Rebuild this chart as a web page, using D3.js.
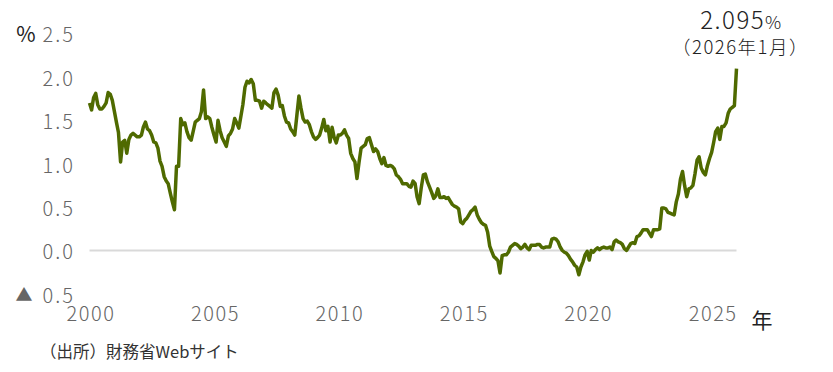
<!DOCTYPE html>
<html lang="ja">
<head>
<meta charset="utf-8">
<script src="https://cdn.jsdelivr.net/npm/d3@7"></script>
<style>
  html, body { margin: 0; padding: 0; background: #fff; }
  svg text { font-family: "Noto Sans CJK JP", "Noto Sans", sans-serif; }
</style>
</head>
<body>
<svg id="chart"></svg>
<script>
// ====== données : rendement mensuel (%), janv. 2000 -> janv. 2026 ====== //
const startYear = 2000;
const yields = [
  1.70, 1.62, 1.76, 1.81, 1.68, 1.63, 1.63, 1.66, 1.70, 1.82, 1.80, 1.73, // 2000
  1.60, 1.47, 1.36, 1.02, 1.25, 1.27, 1.12, 1.28, 1.33, 1.35, 1.33, 1.31, // 2001
  1.31, 1.33, 1.42, 1.48, 1.40, 1.38, 1.33, 1.25, 1.24, 1.18, 1.03, 0.97, // 2002
  0.85, 0.80, 0.77, 0.66, 0.56, 0.47, 0.97, 0.97, 1.52, 1.45, 1.47, 1.37, // 2003
  1.30, 1.27, 1.37, 1.48, 1.50, 1.52, 1.60, 1.85, 1.52, 1.54, 1.52, 1.42, // 2004
  1.33, 1.25, 1.50, 1.38, 1.30, 1.25, 1.20, 1.32, 1.35, 1.40, 1.52, 1.47, // 2005
  1.41, 1.55, 1.68, 1.88, 1.95, 1.93, 1.97, 1.92, 1.73, 1.73, 1.72, 1.64, // 2006
  1.72, 1.70, 1.68, 1.66, 1.64, 1.82, 1.86, 1.79, 1.66, 1.67, 1.55, 1.48, // 2007
  1.47, 1.40, 1.37, 1.33, 1.55, 1.78, 1.64, 1.52, 1.48, 1.49, 1.45, 1.37, // 2008
  1.31, 1.28, 1.30, 1.33, 1.41, 1.51, 1.38, 1.43, 1.25, 1.42, 1.30, 1.24, // 2009
  1.33, 1.33, 1.35, 1.39, 1.33, 1.29, 1.12, 1.06, 1.02, 0.83, 1.02, 1.18, // 2010
  1.20, 1.22, 1.29, 1.30, 1.22, 1.14, 1.17, 1.14, 1.06, 1.00, 1.07, 0.98, // 2011
  0.97, 0.98, 0.97, 0.94, 0.87, 0.85, 0.82, 0.77, 0.77, 0.77, 0.74, 0.73, // 2012
  0.80, 0.77, 0.62, 0.54, 0.72, 0.87, 0.88, 0.79, 0.73, 0.67, 0.60, 0.63, // 2013
  0.71, 0.61, 0.61, 0.62, 0.60, 0.61, 0.57, 0.53, 0.51, 0.50, 0.48, 0.33, // 2014
  0.31, 0.35, 0.37, 0.41, 0.45, 0.47, 0.50, 0.41, 0.36, 0.32, 0.30, 0.29, // 2015
  0.21, 0.05, -0.01, -0.07, -0.09, -0.12, -0.26, -0.06, -0.05, -0.05, -0.02, 0.04, // 2016
  0.06, 0.08, 0.07, 0.05, 0.02, 0.04, 0.07, 0.03, 0.01, 0.06, 0.06, 0.06, // 2017
  0.07, 0.07, 0.04, 0.03, 0.04, 0.04, 0.04, 0.13, 0.14, 0.13, 0.10, 0.04, // 2018
  0.00, -0.02, -0.03, -0.06, -0.10, -0.13, -0.17, -0.19, -0.28, -0.19, -0.13, -0.05, // 2019
  -0.01, -0.11, 0.00, -0.02, 0.01, 0.03, 0.01, 0.03, 0.04, 0.03, 0.03, 0.04, // 2020
  0.01, 0.10, 0.12, 0.10, 0.09, 0.07, 0.02, 0.00, 0.04, 0.08, 0.09, 0.08, // 2021
  0.16, 0.17, 0.20, 0.24, 0.24, 0.24, 0.20, 0.16, 0.24, 0.24, 0.24, 0.25, // 2022
  0.49, 0.49, 0.48, 0.44, 0.43, 0.42, 0.41, 0.56, 0.65, 0.82, 0.91, 0.75, // 2023
  0.62, 0.71, 0.72, 0.75, 0.88, 1.04, 1.08, 0.95, 0.90, 0.87, 0.98, 1.06, // 2024
  1.13, 1.25, 1.37, 1.41, 1.28, 1.43, 1.43, 1.47, 1.58, 1.63, 1.65, 1.67, // 2025
  2.095                                                                     // 2026/01
];

const yTicks = [-0.5, 0, 0.5, 1.0, 1.5, 2.0, 2.5];
const xTickYears = [2000, 2005, 2010, 2015, 2020, 2025];
const lastLabel = "2.095";
const lastDate = "（2026年1月）";
const sourceText = "（出所）財務省Webサイト";

// ====== dimensions ====== //
const width = 833;
const height = 372;

const svg = d3.select("#chart")
    .attr("width", width)
    .attr("height", height);

const points = yields.map((v, i) => ({ date: new Date(startYear, i, 1), value: v }));

const x = d3.scaleTime()
    .domain([new Date(startYear, 0, 1), points[points.length - 1].date])
    .range([89.5, 736.5]);

const y = d3.scaleLinear()
    .domain([-0.5, 2.5])
    .range([293.9, 33.5]);

// axe Y (labels seulement)
const yAxis = svg.append("g")
    .attr("transform", "translate(75,0)")
    .call(d3.axisLeft(y)
        .tickValues(yTicks)
        .tickSize(0)
        .tickPadding(0)
        .tickFormat(d => d < 0 ? Math.abs(d).toFixed(1) : d.toFixed(1)));
yAxis.select(".domain").remove();
yAxis.selectAll("text")
    .attr("fill", "#666")
    .attr("dy", "0.42em")
    .style("font-size", "20px")
    .style("font-weight", 300)
    .style("letter-spacing", "2px");

// triangle pour les négatifs + unité
svg.append("text")
    .attr("x", 24).attr("y", y(-0.5))
    .attr("dy", "0.42em")
    .attr("text-anchor", "middle")
    .attr("fill", "#666")
    .style("font-size", "17px")
    .text("▲");

svg.append("text")
    .attr("x", 26).attr("y", y(2.5))
    .attr("dy", "0.42em")
    .attr("text-anchor", "middle")
    .attr("fill", "#222")
    .style("font-size", "21px")
    .text("%");

// axe X
const xAxis = svg.append("g")
    .attr("transform", "translate(1,302)")
    .call(d3.axisBottom(x)
        .tickValues(xTickYears.map(yr => new Date(yr, 0, 1)))
        .tickSize(0)
        .tickPadding(0)
        .tickFormat(d3.timeFormat("%Y")));
xAxis.select(".domain").remove();
xAxis.selectAll("text")
    .attr("fill", "#666")
    .attr("dy", "0.95em")
    .style("font-size", "20px")
    .style("font-weight", 300)
    .style("letter-spacing", "1.5px");

svg.append("text")
    .attr("x", 762).attr("y", 321)
    .attr("dy", "0.35em")
    .attr("text-anchor", "middle")
    .attr("fill", "#222")
    .style("font-size", "21px")
    .text("年");

// ligne zéro
svg.append("line")
    .attr("x1", x.range()[0]).attr("x2", x.range()[1])
    .attr("y1", y(0)).attr("y2", y(0))
    .attr("stroke", "#d9d9d9")
    .attr("stroke-width", 2);

// courbe
const line = d3.line()
    .x(d => x(d.date))
    .y(d => y(d.value));

svg.append("path")
    .datum(points)
    .attr("fill", "none")
    .attr("stroke", "#4f6a00")
    .attr("stroke-width", 3.5)
    .attr("stroke-linejoin", "round")
    .attr("d", line);

// annotation dernière valeur
const last = points[points.length - 1];
const ann = svg.append("text")
    .attr("x", x(last.date) + 5).attr("y", 29)
    .attr("text-anchor", "middle")
    .attr("fill", "#222")
    .style("font-size", "24px")
    .style("font-weight", 300)
    .style("letter-spacing", "1.5px");
ann.append("tspan").text(lastLabel);
ann.append("tspan").style("font-size", "18px").text("%");

svg.append("text")
    .attr("x", x(last.date) + 4).attr("y", 54)
    .attr("text-anchor", "middle")
    .attr("fill", "#222")
    .style("font-size", "18.5px")
    .style("font-weight", 300)
    .style("letter-spacing", "1.5px")
    .text(lastDate);

// source
svg.append("text")
    .attr("x", 40).attr("y", 358)
    .attr("fill", "#333")
    .style("font-size", "16.5px")
    .text(sourceText);
</script>
</body>
</html>
